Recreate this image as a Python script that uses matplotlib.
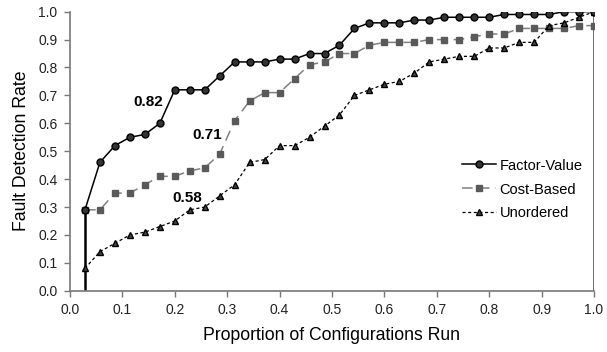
import numpy as np
import matplotlib.pyplot as plt

# proportion of configurations run: 35 configurations
n_configs = 35
proportion = [k / n_configs for k in range(1, n_configs + 1)]

factor_value = [0.29, 0.46, 0.52, 0.55, 0.56, 0.60, 0.72, 0.72, 0.72, 0.77,
                0.82, 0.82, 0.82, 0.83, 0.83, 0.85, 0.85, 0.88, 0.94, 0.96,
                0.96, 0.96, 0.97, 0.97, 0.98, 0.98, 0.98, 0.98, 0.99, 0.99,
                0.99, 0.99, 1.00, 1.00, 1.00]
cost_based = [0.29, 0.29, 0.35, 0.35, 0.38, 0.41, 0.41, 0.43, 0.44, 0.49,
              0.61, 0.68, 0.71, 0.71, 0.76, 0.81, 0.82, 0.85, 0.85, 0.88,
              0.89, 0.89, 0.89, 0.90, 0.90, 0.90, 0.91, 0.92, 0.92, 0.94,
              0.94, 0.94, 0.94, 0.95, 0.95]
unordered = [0.08, 0.14, 0.17, 0.20, 0.21, 0.23, 0.25, 0.29, 0.30, 0.34,
             0.38, 0.46, 0.47, 0.52, 0.52, 0.55, 0.59, 0.63, 0.70, 0.72,
             0.74, 0.75, 0.78, 0.82, 0.83, 0.84, 0.84, 0.87, 0.87, 0.89,
             0.89, 0.95, 0.96, 0.98, 1.00]

# area under curve labels
auc_labels = ['0.82', '0.71', '0.58']
auc_pos = [(0.149, 0.676), (0.262, 0.558), (0.224, 0.332)]

plt.rcParams['font.family'] = ['Liberation Sans', 'DejaVu Sans']

fig = plt.figure(figsize=(6.07, 3.52), dpi=100)
ax = fig.add_axes([0.1153, 0.174, 0.8633, 0.7928])

# vertical drops at the first and last configuration
ax.vlines(proportion[0], 0, cost_based[0], color='black', linewidth=1.8, zorder=2)
ax.vlines(proportion[-1], 0, 1.0, color='#404040', linewidth=1.8, zorder=2)

ax.plot(proportion, factor_value, color='black', linewidth=1.1,
        marker='o', markersize=5, markerfacecolor='#333333',
        markeredgecolor='black', label='Factor-Value', zorder=4)
ax.plot(proportion, cost_based, color='#808080', linewidth=1.1,
        linestyle=(0, (7, 4)), marker='s', markersize=5,
        markerfacecolor='#5a5a5a', markeredgecolor='#5a5a5a',
        label='Cost-Based', zorder=3)
ax.plot(proportion, unordered, color='black', linewidth=0.9,
        linestyle=(0, (2.5, 2)), marker='^', markersize=4.5,
        markerfacecolor='#444444', markeredgecolor='black',
        label='Unordered', zorder=3)

for txt, (x, y) in zip(auc_labels, auc_pos):
    ax.text(x, y, txt, fontsize=11, fontweight='bold', ha='center', va='center')

ax.set_xlim(0, 1.0)
ax.set_ylim(0, 1.0)
ax.set_xticks(np.arange(0, 1.01, 0.1))
ax.set_yticks(np.arange(0, 1.01, 0.1))
ax.xaxis.set_major_formatter(plt.FormatStrFormatter('%.1f'))
ax.yaxis.set_major_formatter(plt.FormatStrFormatter('%.1f'))
ax.tick_params(direction='out', length=4, width=1, color='#777777',
               labelsize=10, labelcolor='#222222', pad=5)

for side in ['top', 'right']:
    ax.spines[side].set_visible(False)
for side in ['left', 'bottom']:
    ax.spines[side].set_color('#777777')
    ax.spines[side].set_linewidth(1.2)

ax.set_xlabel('Proportion of Configurations Run', fontsize=12.7, labelpad=7)
ax.set_ylabel('Fault Detection Rate', fontsize=12.7, labelpad=6)

ax.legend(loc='upper left', bbox_to_anchor=(0.752, 0.566),
          bbox_transform=fig.transFigure, frameon=False, fontsize=10.5,
          handlelength=2.3, handletextpad=0.25, labelspacing=0.68,
          borderaxespad=0)

fig.savefig('out.png', dpi=100)
